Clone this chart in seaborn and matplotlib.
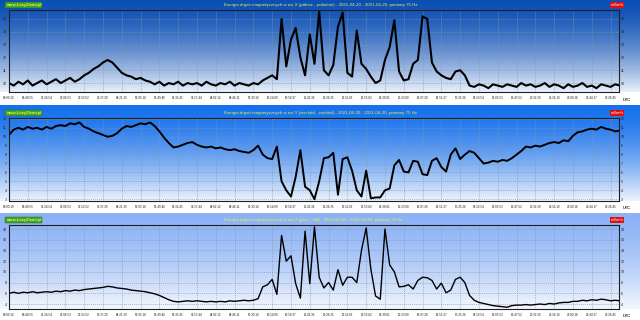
import numpy as np
import pandas as pd
import matplotlib
matplotlib.use("Agg")
import matplotlib.pyplot as plt
import seaborn as sns

# ---------------- data ----------------
tick_labels = ["00:00:19", "00:40:55", "01:24:54", "02:08:53", "02:52:52", "03:37:20",
               "04:21:19", "05:05:18", "05:49:46", "06:33:45", "07:17:44", "08:02:12",
               "08:46:11", "09:30:10", "10:14:09", "10:58:37", "11:42:36", "12:26:35",
               "13:11:03", "13:55:02", "14:39:01", "15:23:00", "16:07:28", "16:51:27",
               "17:35:26", "18:19:54", "19:03:53", "19:47:52", "20:32:20", "21:16:19",
               "22:00:18", "22:44:17", "23:28:45"]

sample_step = 0.25  # samples per tick interval spacing

x_energy = [10.0, 9.8, 10.1, 9.9, 10.2, 9.8, 10.0, 10.2, 9.9, 10.1, 10.3, 10.0, 10.2, 10.4, 10.1, 10.3, 10.6,
            10.8, 11.1, 11.3, 11.6, 11.8, 11.6, 11.2, 10.8, 10.6, 10.5, 10.3, 10.4, 10.2, 10.1,
            9.9, 10.1, 9.8, 10.0, 9.9, 10.1, 9.8, 10.0, 9.9, 10.0, 9.8, 10.1, 9.9, 9.8, 10.0, 9.9,
            10.1, 9.8, 10.0, 9.9, 9.8, 10.0, 9.9,
            10.2, 10.4, 10.6, 10.3, 15.0, 11.3, 13.4, 14.3, 12.0, 10.6, 13.8, 11.5, 15.6, 11.0, 10.6,
            11.4, 14.4, 15.5, 10.8, 10.5, 14.1, 11.5, 11.1, 10.5, 10.0, 10.2, 11.8, 12.8, 14.9, 10.9,
            10.2, 10.3, 11.5, 11.8, 15.2, 15.0, 11.6, 10.9, 10.6, 10.4, 10.3, 10.9, 11.0, 10.6, 9.8,
            9.7, 9.9, 9.8, 9.6, 9.9, 9.8, 9.7, 9.9, 9.8, 9.7, 10.0, 9.8, 9.9, 9.7, 9.8, 10.0,
            9.7, 9.9, 9.8, 9.6, 9.9, 9.7, 9.8, 10.0, 9.7, 9.8, 9.6, 9.9, 9.8, 9.7, 9.9, 9.8]

y_energy = [10.2, 10.8, 11.0, 10.8, 11.1, 10.9, 11.0, 10.8, 11.1, 10.9,
            11.2, 11.3, 11.2, 11.5, 11.4, 11.6, 11.1, 10.9, 10.6, 10.4,
            10.2, 10.0, 10.1, 10.4, 10.9, 11.2, 11.1, 11.3, 11.5, 11.4,
            11.6, 11.2, 10.6, 9.9, 9.3, 8.8, 8.9, 9.1, 9.3, 9.4,
            9.1, 8.9, 8.8, 8.9, 8.7, 8.8, 8.6, 8.5, 8.6, 8.4,
            8.3, 8.2, 8.5, 9.0, 8.0, 7.6, 7.5, 8.9, 5.0, 4.0,
            3.3, 5.5, 8.5, 4.4, 4.0, 3.0, 5.0, 7.6, 7.7, 8.2,
            3.5, 7.5, 7.7, 6.2, 4.0, 3.3, 6.2, 3.1, 3.2, 3.2,
            4.0, 4.2, 6.8, 7.4, 6.1, 6.0, 7.3, 7.2, 5.8, 5.7,
            7.3, 7.6, 6.6, 6.1, 8.0, 8.7, 7.5, 8.0, 8.4, 8.2,
            7.6, 7.0, 7.1, 7.3, 7.2, 7.4, 7.3, 7.6, 8.0, 8.4,
            8.9, 8.8, 9.0, 8.9, 9.1, 9.3, 9.4, 9.3, 9.6, 9.5,
            10.1, 10.5, 10.6, 10.8, 10.9, 10.8, 11.1, 10.9, 10.8, 10.6,
            10.7]

z_energy = [6.0, 6.2, 6.0, 6.2, 6.1, 6.3, 6.1, 6.2, 6.3, 6.2,
            6.4, 6.3, 6.5, 6.4, 6.6, 6.5, 6.7, 6.8, 6.9, 7.0,
            7.1, 7.3, 7.2, 7.0, 6.9, 6.8, 6.6, 6.5, 6.4, 6.3,
            6.1, 5.9, 5.6, 5.2, 4.8, 4.5, 4.4, 4.5, 4.6, 4.5,
            4.6, 4.5, 4.4, 4.5, 4.4, 4.5, 4.4, 4.6, 4.5, 4.6,
            4.7, 4.6, 4.7, 5.0, 7.2, 7.6, 8.6, 5.8, 16.8, 12.0,
            13.0, 7.8, 5.1, 17.6, 7.8, 18.4, 9.0, 7.0, 8.0, 6.6,
            10.4, 7.5, 9.0, 9.0, 8.0, 14.0, 18.2, 10.5, 5.5, 4.9,
            18.0, 11.3, 10.0, 7.2, 7.3, 7.6, 6.8, 8.4, 9.0, 8.9,
            8.4, 6.8, 7.9, 6.1, 6.6, 8.6, 9.0, 8.0, 5.6, 4.7,
            4.3, 4.1, 3.9, 3.7, 3.6, 3.5, 3.4, 3.7, 3.8, 3.8,
            3.9, 3.8, 3.9, 4.0, 3.9, 4.1, 4.0, 4.2, 4.3, 4.3,
            4.5, 4.5, 4.7, 4.6, 4.8, 4.7, 4.9, 4.8, 4.6, 4.7,
            4.6]

titles = ["Energia drgań magnetycznych w osi X (północ - południe) - 2021-04-20 - 2021-04-20, pomiary 75 Hz",
          "Energia drgań magnetycznych w osi Y (wschód - zachód) - 2021-04-20 - 2021-04-20, pomiary 75 Hz",
          "Energia drgań magnetycznych w osi Z (góra - dół) - 2021-04-20 - 2021-04-20, pomiary 75 Hz"]
y_ticks = [[10, 11, 12, 13, 14, 15],
           [3, 4, 5, 6, 7, 8, 9, 10, 11, 12],
           [4, 6, 8, 10, 12, 14, 16, 18]]
y_limits = [(9.3, 15.7), (2.8, 12.1), (3.07, 18.75)]
site_label = "www.LozyZiemi.pl"
unit_label = "mJ/m²/s"

# ---------------- style ----------------
sns.set_theme(style="white")
plt.rcParams['font.family'] = ['Liberation Sans', 'DejaVu Sans']

W, H = 640, 320
fig = plt.figure(figsize=(6.4, 3.2), dpi=100)
fig.patch.set_facecolor("white")


def rect(l, t, r, b):
    return [l / W, 1 - b / H, (r - l) / W, (b - t) / H]


layout = [
    dict(bg_top=0, ax=(9, 10, 619, 92), c0=(12, 79, 180), c1=(232, 240, 251), text_y=5,
         title_col="#dff04a", lw=1.5, utc_y=100),
    dict(bg_top=105, ax=(9, 118, 619, 201), c0=(22, 112, 236), c1=(238, 244, 252), text_y=113,
         title_col="#e4f04a", lw=1.4, utc_y=208),
    dict(bg_top=213, ax=(9, 225, 619, 309), c0=(140, 178, 245), c1=(244, 248, 254), text_y=220,
         title_col="#f2f226", lw=1.0, utc_y=316),
]

series = [x_energy, y_energy, z_energy]

for i, (vals, lay) in enumerate(zip(series, layout)):
    l, t, r, b = lay['ax']
    # gradient background of the panel
    bg = fig.add_axes(rect(0, lay['bg_top'], W, b), zorder=-10)
    n = 200
    f = np.linspace(0, 1, n) ** 1.5
    c0 = np.array(lay['c0']) / 255.0
    c1 = np.array(lay['c1']) / 255.0
    grad = (c0[None, :] * (1 - f[:, None]) + c1[None, :] * f[:, None])[:, None, :]
    bg.imshow(grad, aspect='auto', extent=(0, 1, 0, 1), interpolation='bilinear')
    bg.set_axis_off()

    ax = fig.add_axes(rect(l, t, r, b))
    ax.set_facecolor('none')
    df = pd.DataFrame({'t': np.arange(len(vals)) * sample_step, 'v': vals})
    sns.lineplot(data=df, x='t', y='v', ax=ax, color='black', lw=lay['lw'])
    ax.set_xlim(0, 32.45)
    ax.set_ylim(*y_limits[i])
    ax.set_xlabel("")
    ax.set_ylabel("")
    ax.set_xticks(range(len(tick_labels)))
    ax.set_xticklabels(tick_labels, fontsize=2.2, color='#202020')
    ax.set_yticks(y_ticks[i])
    ax.set_yticklabels([str(v) for v in y_ticks[i]], fontsize=2.6, color='#202020')
    ax.tick_params(axis='x', length=0, pad=2.6)
    ax.tick_params(axis='y', length=0, pad=1.6, labelleft=True, labelright=True)
    ax.grid(True, color='#8a94a4', linestyle=(0, (1.2, 1.6)), linewidth=0.5)
    for s in ax.spines.values():
        s.set_color('#202020')
        s.set_linewidth(0.8)

    ty = 1 - lay['text_y'] / H
    fig.text(224 / W, ty, titles[i], fontsize=3.2, color=lay['title_col'], va='center', ha='left')
    fig.text(6 / W, ty, site_label, fontsize=3.0, color='#f4f020', fontweight='bold',
             va='center', ha='left',
             bbox=dict(boxstyle='square,pad=0.15', fc='#3aa43a', ec='#1f5f1f', lw=0.3))
    fig.text(617 / W, ty, unit_label, fontsize=2.7, color='white', va='center', ha='center',
             bbox=dict(boxstyle='square,pad=0.2', fc='#e01010', ec='none'))
    fig.text(627 / W, 1 - lay['utc_y'] / H, "UTC", fontsize=2.9, color='#303030',
             fontweight='bold', va='center', ha='center')

fig.savefig("out.png", dpi=100, facecolor=fig.get_facecolor())
